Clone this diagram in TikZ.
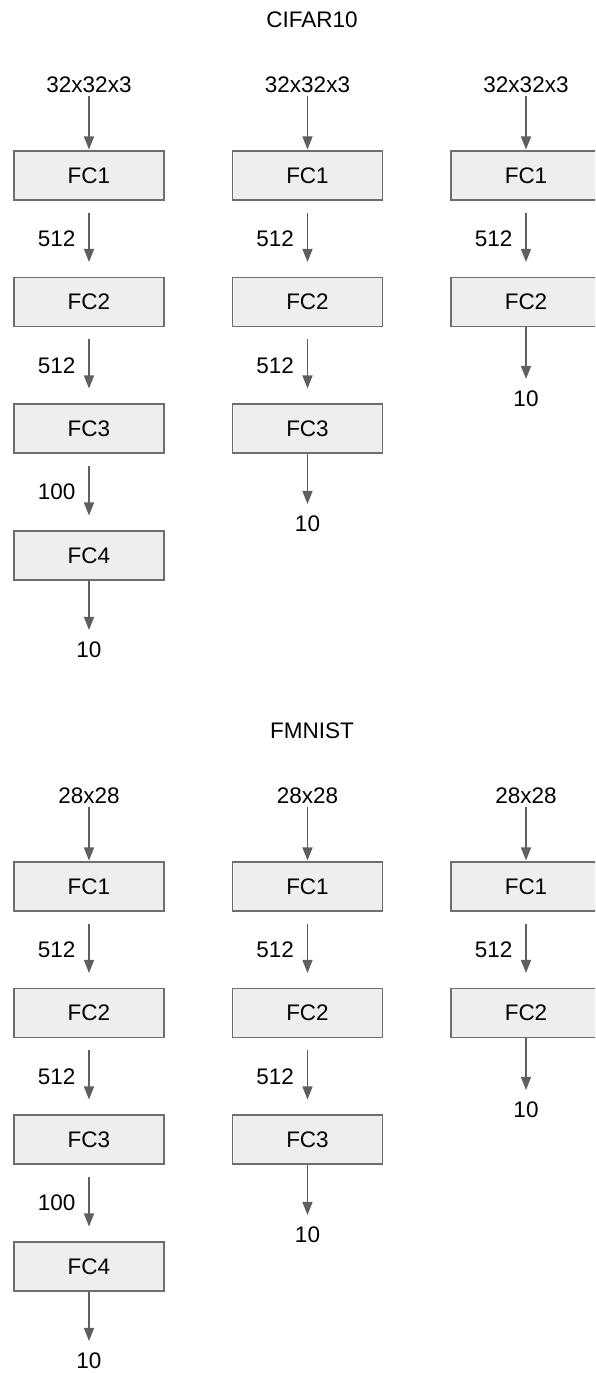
\documentclass[tikz,border=0pt]{standalone}
\usepackage{fontspec}
\setmainfont{Liberation Sans}
\usetikzlibrary{arrows.meta}

\definecolor{boxfill}{HTML}{EEEEEE}
\definecolor{boxline}{HTML}{6E6E6E}
\definecolor{arrowgray}{HTML}{5F5F5F}

\begin{document}
\begin{tikzpicture}[x=1pt, y=-1pt,
  fc/.style={rectangle, draw=boxline, fill=boxfill, line width=1.1pt, minimum width=150pt, minimum height=49pt, font=\fontsize{22.5}{27}\selectfont},
  txt/.style={font=\fontsize{22.5}{27}\selectfont, inner sep=3pt, text depth=0pt},
  arrow/.style={-{Triangle[length=13pt, width=10pt]}, draw=arrowgray, line width=1.3pt},
  gap/.style={shorten <=12pt, shorten >=15pt},
  dim/.style={txt, midway, left=10pt},
]
\clip (0,0) rectangle (595,1373);

\foreach \ds/\dy/\title/\inp in {c/0/CIFAR10/32x32x3, f/711/FMNIST/28x28} {
\begin{scope}[yshift=-\dy pt]

% === Title ===
\node[txt] (\ds-title) at (312, 20) {\title};

% === Column a: four layers ===
\node[txt] (\ds-ina) at (89, 85) {\inp};
\node[fc] (\ds-a1) at (89, 175.5) {FC1};
\node[fc] (\ds-a2) at (89, 302) {FC2};
\node[fc] (\ds-a3) at (89, 428.5) {FC3};
\node[fc] (\ds-a4) at (89, 555.5) {FC4};
\node[txt] (\ds-outa) at (89, 650) {10};

\draw[arrow, shorten >=1pt] (\ds-ina) -- (\ds-a1);
\draw[arrow, gap] (\ds-a1) -- node[dim] {512} (\ds-a2);
\draw[arrow, gap] (\ds-a2) -- node[dim] {512} (\ds-a3);
\draw[arrow, gap] (\ds-a3) -- node[dim] {100} (\ds-a4);
\draw[arrow, shorten >=9pt] (\ds-a4) -- (\ds-outa);

% === Column b: three layers ===
\node[txt] (\ds-inb) at (307.5, 85) {\inp};
\node[fc] (\ds-b1) at (307.5, 175.5) {FC1};
\node[fc] (\ds-b2) at (307.5, 302) {FC2};
\node[fc] (\ds-b3) at (307.5, 428.5) {FC3};
\node[txt] (\ds-outb) at (307.5, 524) {10};

\draw[arrow, shorten >=1pt] (\ds-inb) -- (\ds-b1);
\draw[arrow, gap] (\ds-b1) -- node[dim] {512} (\ds-b2);
\draw[arrow, gap] (\ds-b2) -- node[dim] {512} (\ds-b3);
\draw[arrow, shorten >=9pt] (\ds-b3) -- (\ds-outb);

% === Column c: two layers ===
\node[txt] (\ds-inc) at (526, 85) {\inp};
\node[fc] (\ds-c1) at (526, 175.5) {FC1};
\node[fc] (\ds-c2) at (526, 302) {FC2};
\node[txt] (\ds-outc) at (526, 399) {10};

\draw[arrow, shorten >=1pt] (\ds-inc) -- (\ds-c1);
\draw[arrow, gap] (\ds-c1) -- node[dim] {512} (\ds-c2);
\draw[arrow, shorten >=9pt] (\ds-c2) -- (\ds-outc);

\end{scope}
}

\end{tikzpicture}
\end{document}
